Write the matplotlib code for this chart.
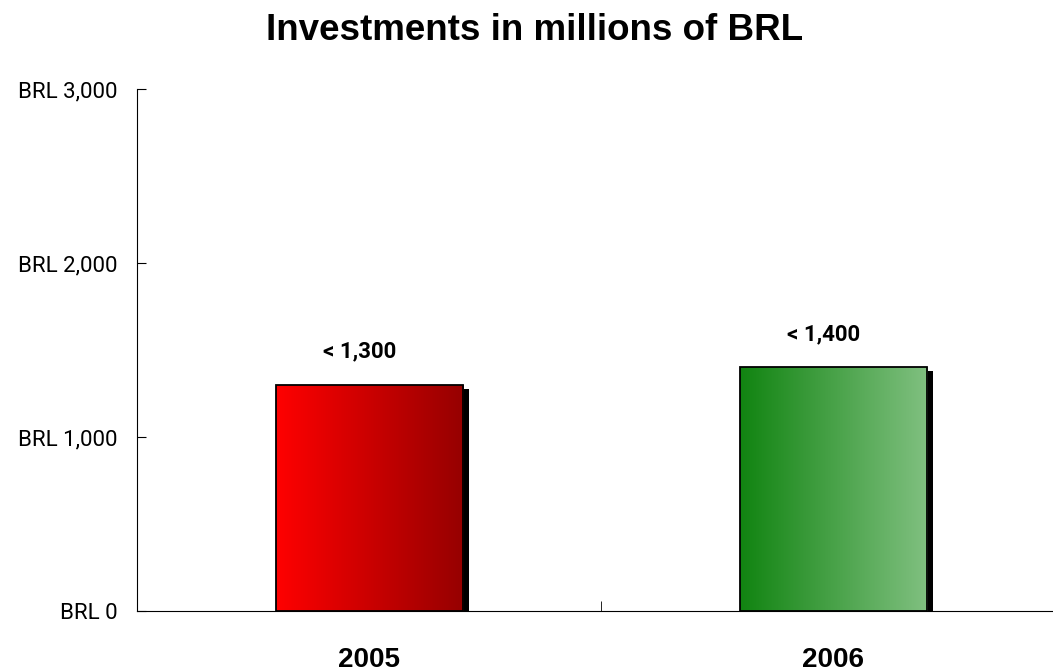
import numpy as np
import matplotlib
matplotlib.use("Agg")
import matplotlib.pyplot as plt
import matplotlib.transforms as mtransforms
from matplotlib.colors import LinearSegmentedColormap
from matplotlib.patches import Rectangle

years = ["2005", "2006"]
values = [1300, 1400]
labels = ["< 1,300", "< 1,400"]
yticks = [0, 1000, 2000, 3000]
ytick_labels = ["BRL 0", "BRL 1,000", "BRL 2,000", "BRL 3,000"]
gradients = [("#ff0000", "#960000"), ("#118411", "#80c080")]

narrow = ["Roboto", "DejaVu Sans"]
bold = ["Liberation Sans", "DejaVu Sans"]

fig = plt.figure(figsize=(10.53, 6.71), dpi=100)
ax = fig.add_axes([0.1301, 0.0894, 0.8699, 0.778])

width = 0.403
x = np.arange(len(years))
bars = ax.bar(x, values, width=width, facecolor="none", edgecolor="black",
              linewidth=1.3, zorder=3)

# drop shadow, a few pixels right and down
shadow_tr = ax.transData + mtransforms.ScaledTranslation(0.06, -0.04, fig.dpi_scale_trans)
for bar, (c0, c1), lab in zip(bars, gradients, labels):
    x0, w, h = bar.get_x(), bar.get_width(), bar.get_height()
    ax.add_patch(Rectangle((x0, 0), w, h, transform=shadow_tr, facecolor="black",
                           edgecolor="none", zorder=1))
    cmap = LinearSegmentedColormap.from_list("g", [c0, c1])
    grad = np.linspace(0, 1, 256).reshape(1, -1)
    im = ax.imshow(grad, cmap=cmap, extent=[x0, x0 + w, 0, h], aspect="auto",
                   zorder=2, interpolation="bilinear")
    im.set_clip_path(Rectangle((x0, 0), w, h, transform=ax.transData))
    ax.annotate(lab, (x0 + w / 2, h), xytext=(-7, 24), textcoords="offset points",
                ha="center", va="center", fontsize=16, family=narrow, fontweight="bold")

ax.set_xlim(-0.5, 1.474)
ax.set_ylim(0, 3000)
ax.spines["top"].set_visible(False)
ax.spines["right"].set_visible(False)

ax.set_yticks(yticks)
ax.set_yticklabels(ytick_labels, family=narrow, fontsize=16)
ax.tick_params(axis="y", direction="in", length=6.5, pad=14)

ax.set_xticks(x)
ax.set_xticklabels(years, fontsize=20, fontweight="bold", family=bold)
ax.tick_params(axis="x", which="major", length=0, pad=26)
ax.set_xticks([0.5], minor=True)
ax.tick_params(axis="x", which="minor", direction="in", length=7)

fig.suptitle("Investments in millions of BRL", fontsize=26.5, fontweight="bold",
             family=bold, x=0.508, y=0.98)

fig.savefig("out.png", dpi=100)
